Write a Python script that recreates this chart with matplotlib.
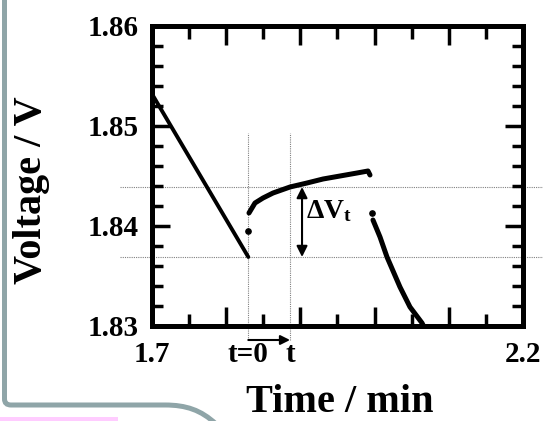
import matplotlib
matplotlib.use("Agg")
import matplotlib.pyplot as plt
import matplotlib.transforms as mtransforms
from matplotlib.path import Path
from matplotlib.patches import PathPatch, Rectangle
from matplotlib.ticker import MultipleLocator, FuncFormatter

# ---------------- data ----------------
seg1_x = [1.700, 1.8298]
seg1_v = [1.8532, 1.8369]

dot1_x = [1.8294]
dot1_v = [1.8395]

rest_x = [1.8307, 1.8388, 1.8496, 1.8631, 1.8860, 1.9089, 1.9305, 1.9534, 1.9763, 1.9911, 1.9938]
rest_v = [1.8413, 1.8423, 1.8428, 1.8433, 1.8439, 1.8443, 1.8447, 1.8450, 1.8453, 1.8455, 1.8451]

dot2_x = [1.9965]
dot2_v = [1.8413]

seg3_x = [1.9978, 2.0073, 2.0167, 2.0342, 2.0477, 2.0639, 2.0679]
seg3_v = [1.8406, 1.8389, 1.8369, 1.8339, 1.8319, 1.8303, 1.8297]

ref_v = [1.8439, 1.8369]          # horizontal dotted guides
ref_t = [1.8298, 1.8860]          # vertical dotted guides: t=0, t
ref_t_labels = ["t=0", "t"]
x_labels = {1.7: "1.7", 2.2: "2.2"}
xlim = (1.7, 2.2)
ylim = (1.83, 1.86)

# ---------------- style ----------------
plt.rcParams['font.family'] = ['Liberation Serif', 'DejaVu Serif']
plt.rcParams['font.weight'] = 'bold'
plt.rcParams['mathtext.fontset'] = 'custom'
plt.rcParams['mathtext.rm'] = 'Liberation Serif:bold'
plt.rcParams['mathtext.it'] = 'Liberation Serif:bold'
plt.rcParams['mathtext.bf'] = 'Liberation Serif:bold'

W, H = 543, 421
fig = plt.figure(figsize=(W / 100, H / 100), dpi=100)

def fx(px):
    return px / W

def fy(py):
    return 1 - py / H

ax = fig.add_axes([fx(152), fy(326), fx(523) - fx(152), fy(26) - fy(326)])
ax.set_xlim(*xlim)
ax.set_ylim(*ylim)

for s in ax.spines.values():
    s.set_linewidth(3.6)
    s.set_color('black')

ax.xaxis.set_major_locator(MultipleLocator(0.1))
ax.xaxis.set_minor_locator(MultipleLocator(0.05))
ax.yaxis.set_major_locator(MultipleLocator(0.01))
ax.yaxis.set_minor_locator(MultipleLocator(0.002))

ax.xaxis.set_major_formatter(FuncFormatter(
    lambda v, p: next((lab for k, lab in x_labels.items() if abs(v - k) < 1e-6), "")))
ax.yaxis.set_major_formatter(FuncFormatter(lambda v, p: f"{v:.2f}"))

ax.tick_params(which='both', direction='in', top=True, right=True, width=2.5, color='black')
ax.tick_params(axis='x', which='major', length=13.5, pad=10.5, labelsize=21)
ax.tick_params(axis='x', which='minor', length=9)
ax.tick_params(axis='y', which='major', length=13, pad=9.5, labelsize=21)
ax.tick_params(axis='y', which='minor', length=8)

# guides
dot_style = dict(color='#808080', lw=0.8, ls=(0, (1, 1)), clip_on=False, zorder=1)
for v in ref_v:
    ax.plot([1.6569, 2.227], [v, v], **dot_style)
for t in ref_t:
    ax.plot([t, t], [1.8286, 1.8493], **dot_style)

# data
ax.plot(seg1_x, seg1_v, color='black', lw=2.8, solid_capstyle='round', zorder=3)
ax.plot(dot1_x, dot1_v, 'o', color='black', ms=3.8, zorder=3)
ax.plot(rest_x, rest_v, color='black', lw=3.6, solid_capstyle='round', zorder=3)
ax.plot(dot2_x, dot2_v, 'o', color='black', ms=3.8, zorder=3)
ax.plot(seg3_x, seg3_v, color='black', lw=3.6, solid_capstyle='round', zorder=3)

# Delta V arrow and label
ax.annotate('', xy=(1.9022, ref_v[1]), xytext=(1.9022, ref_v[0]),
            arrowprops=dict(arrowstyle='<|-|>', color='black', lw=1.5,
                            mutation_scale=16, shrinkA=0, shrinkB=0),
            annotation_clip=False)
ax.text(1.9080, 1.8408, r'$\Delta V_t$', fontsize=20, ha='left', va='baseline')

# time arrow
ax.annotate('', xy=(ref_t[1], 1.8286), xytext=(ref_t[0], 1.8286),
            arrowprops=dict(arrowstyle='-|>', color='black', lw=1.5,
                            mutation_scale=14, shrinkA=0, shrinkB=0),
            annotation_clip=False)

# t=0 / t labels
ttrans = mtransforms.offset_copy(ax.get_xaxis_transform(), fig=fig, y=-10.5, units='points')
for t, lab in zip(ref_t, ref_t_labels):
    ax.text(t, 0, lab, transform=ttrans, ha='center', va='top', fontsize=21)

# axis titles
fig.text(fx(340), fy(412), 'Time / min', fontsize=29, ha='center', va='baseline')
fig.text(fx(31.5), fy(190), 'Voltage / V', fontsize=29, rotation=90, ha='center', va='center')

# decorations
frame_px = [(4.5, -3), (4.5, 399), (4.5, 405), (11, 405), (165, 405),
            (186, 405), (201, 410), (216, 424)]
codes = [Path.MOVETO, Path.LINETO, Path.CURVE3, Path.CURVE3, Path.LINETO,
         Path.CURVE4, Path.CURVE4, Path.CURVE4]
frame = Path([(fx(x), fy(y)) for x, y in frame_px], codes)
fig.patches.append(PathPatch(frame, transform=fig.transFigure, fill=False,
                             edgecolor='#8FA5A8', lw=3.6, figure=fig))
fig.patches.append(Rectangle((0, 0), fx(118), 4 / H, transform=fig.transFigure,
                             facecolor='#FFCCFF', edgecolor='none', figure=fig))

fig.savefig('out.png', dpi=100)
